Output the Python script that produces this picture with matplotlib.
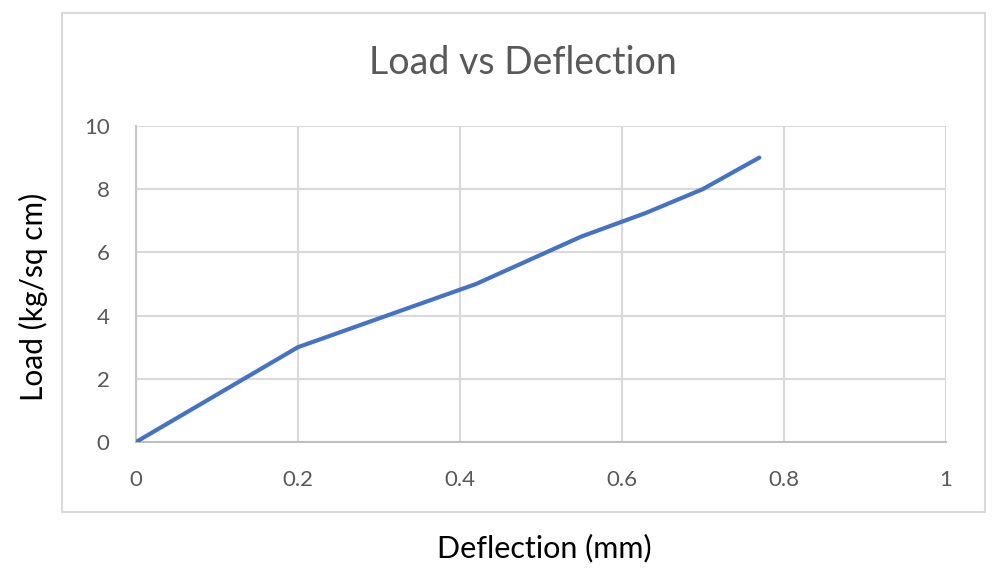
import matplotlib
matplotlib.use("Agg")
import matplotlib.pyplot as plt
from matplotlib.patches import Rectangle

# data
deflection = [0, 0.2, 0.42, 0.55, 0.63, 0.70, 0.77]
load = [0, 3, 5, 6.5, 7.25, 8, 9]
x_ticks = [0, 0.2, 0.4, 0.6, 0.8, 1]
y_ticks = [0, 2, 4, 6, 8, 10]

plt.rcParams['font.family'] = ['Lato', 'DejaVu Sans']

W, H = 999, 572
fig = plt.figure(figsize=(W / 100, H / 100), dpi=100)

# chart border (excel style)
fig.patches.append(Rectangle((62 / W, 1 - 512 / H), (985 - 62) / W, (512 - 13) / H,
                             transform=fig.transFigure, fill=False,
                             edgecolor='#d9d9d9', linewidth=1.5))

ax = fig.add_axes([136 / W, 1 - 442 / H, (945.5 - 136) / W, (442 - 126) / H])
ax.plot(deflection, load, color='#4472C4', linewidth=3, solid_capstyle='round',
        solid_joinstyle='round', zorder=3)

ax.set_xlim(0, 1)
ax.set_ylim(0, 10)
ax.set_xticks(x_ticks)
ax.set_xticklabels([f'{v:g}' for v in x_ticks])
ax.set_yticks(y_ticks)
ax.grid(True, color='#d9d9d9', linewidth=1.5)
ax.set_axisbelow(True)
for s in ['top', 'right']:
    ax.spines[s].set_visible(False)
ax.spines['bottom'].set_color('#bfbfbf')
ax.spines['bottom'].set_linewidth(1.5)
ax.spines['left'].set_color('#c8c8c8')
ax.spines['left'].set_linewidth(1.5)
ax.tick_params(length=0, labelsize=16, labelcolor='#595959')
ax.tick_params(axis='x', pad=20)
ax.tick_params(axis='y', pad=19)

fig.text(523 / W, 1 - 63 / H, 'Load vs Deflection', ha='center', va='center',
         fontsize=27, color='#595959')
fig.text(544 / W, 1 - 548 / H, 'Deflection (mm)', ha='center', va='center',
         fontsize=22, color='black')
fig.text(33 / W, 1 - 297 / H, 'Load (kg/sq cm)', ha='center', va='center',
         rotation=90, fontsize=21.5, color='black')

fig.savefig('out.png', dpi=100)
